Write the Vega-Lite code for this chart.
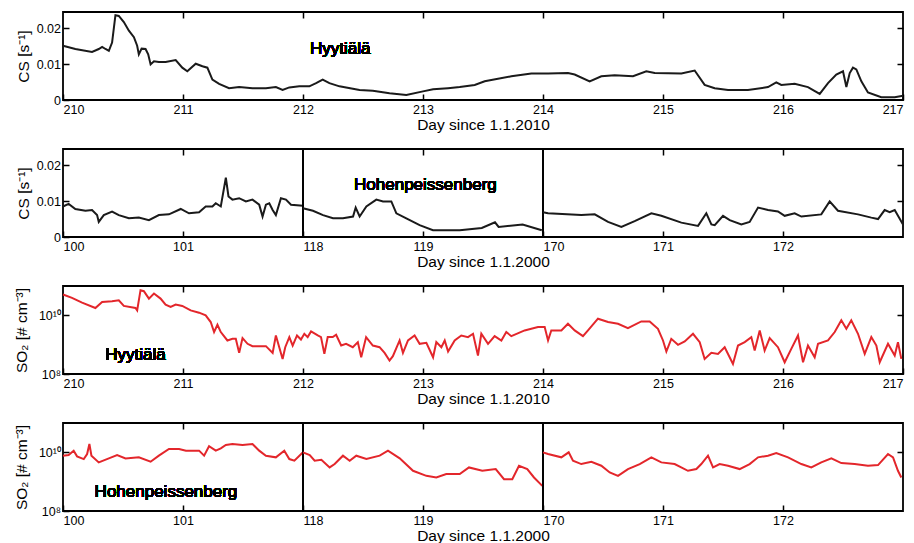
{
  "$schema": "https://vega.github.io/schema/vega-lite/v6.json",
  "background": "white",
  "padding": {"left": 13, "top": 10, "right": 0, "bottom": 0},
  "bounds": "full",
  "spacing": 13,
  "config": {
    "view": {"stroke": "black", "strokeWidth": 1.8},
    "axis": {"tickSize": -6, "tickColor": "black", "tickWidth": 1.5, "domain": false, "grid": false,
      "labelFont": "Liberation Sans", "labelColor": "black", "titleFont": "Liberation Sans",
      "titleFontSize": 15.5, "titleFontWeight": "normal", "titleColor": "black"},
    "axisX": {"labelFontSize": 12.5, "labelPadding": 9.5, "titlePadding": 1.5},
    "axisY": {"labelFontSize": 12.5, "labelPadding": 8.5, "titlePadding": 5},
    "text": {"font": "Liberation Sans", "fontSize": 17, "color": "black", "fontWeight": "normal"}
  },
  "datasets": {
    "cs_hyy": [
      {"day":210.000,"cs":0.0151},{"day":210.103,"cs":0.0142},{"day":210.242,"cs":0.0134},{"day":210.298,"cs":0.0142},{"day":210.326,"cs":0.0148},{"day":210.354,"cs":0.0142},{"day":210.382,"cs":0.0137},{"day":210.409,"cs":0.016},{"day":210.437,"cs":0.0236},{"day":210.465,"cs":0.0234},{"day":210.507,"cs":0.0217},{"day":210.549,"cs":0.0193},{"day":210.591,"cs":0.0175},{"day":210.618,"cs":0.0151},{"day":210.632,"cs":0.0127},{"day":210.655,"cs":0.0143},{"day":210.688,"cs":0.0142},{"day":210.710,"cs":0.0127},{"day":210.730,"cs":0.0099},{"day":210.758,"cs":0.0108},{"day":210.799,"cs":0.0106},{"day":210.855,"cs":0.0106},{"day":210.939,"cs":0.0111},{"day":210.994,"cs":0.009},{"day":211.036,"cs":0.008},{"day":211.106,"cs":0.0101},{"day":211.162,"cs":0.0094},{"day":211.203,"cs":0.009},{"day":211.245,"cs":0.0057},{"day":211.301,"cs":0.0045},{"day":211.384,"cs":0.0033},{"day":211.468,"cs":0.0036},{"day":211.579,"cs":0.0033},{"day":211.691,"cs":0.0033},{"day":211.774,"cs":0.0036},{"day":211.830,"cs":0.0028},{"day":211.886,"cs":0.0035},{"day":211.969,"cs":0.0038},{"day":212.053,"cs":0.0038},{"day":212.109,"cs":0.0047},{"day":212.164,"cs":0.0057},{"day":212.220,"cs":0.0047},{"day":212.304,"cs":0.0038},{"day":212.471,"cs":0.0028},{"day":212.582,"cs":0.0026},{"day":212.721,"cs":0.0019},{"day":212.861,"cs":0.0014},{"day":213.000,"cs":0.0024},{"day":213.084,"cs":0.003},{"day":213.208,"cs":0.0033},{"day":213.306,"cs":0.0036},{"day":213.431,"cs":0.0042},{"day":213.514,"cs":0.0052},{"day":213.736,"cs":0.0066},{"day":213.903,"cs":0.0074},{"day":214.042,"cs":0.0074},{"day":214.208,"cs":0.0075},{"day":214.264,"cs":0.0071},{"day":214.389,"cs":0.0052},{"day":214.486,"cs":0.0066},{"day":214.597,"cs":0.0069},{"day":214.75,"cs":0.0066},{"day":214.861,"cs":0.008},{"day":214.931,"cs":0.0075},{"day":215.153,"cs":0.0074},{"day":215.264,"cs":0.0082},{"day":215.347,"cs":0.0042},{"day":215.431,"cs":0.0033},{"day":215.542,"cs":0.0028},{"day":215.708,"cs":0.0028},{"day":215.875,"cs":0.0036},{"day":215.944,"cs":0.0049},{"day":215.986,"cs":0.0042},{"day":216.097,"cs":0.0045},{"day":216.208,"cs":0.0036},{"day":216.306,"cs":0.0017},{"day":216.375,"cs":0.0047},{"day":216.444,"cs":0.0071},{"day":216.5,"cs":0.008},{"day":216.528,"cs":0.0036},{"day":216.556,"cs":0.0075},{"day":216.583,"cs":0.009},{"day":216.611,"cs":0.0085},{"day":216.653,"cs":0.0052},{"day":216.708,"cs":0.0021},{"day":216.819,"cs":0.0008},{"day":216.931,"cs":0.0008},{"day":217.0,"cs":0.0012}
    ],
    "cs_hoh": [
      {"day":100.000,"cs":0.0085},{"day":100.047,"cs":0.0092},{"day":100.103,"cs":0.0078},{"day":100.187,"cs":0.0073},{"day":100.242,"cs":0.0075},{"day":100.284,"cs":0.0061},{"day":100.298,"cs":0.0042},{"day":100.340,"cs":0.0061},{"day":100.409,"cs":0.0071},{"day":100.465,"cs":0.0061},{"day":100.549,"cs":0.0052},{"day":100.632,"cs":0.0054},{"day":100.716,"cs":0.0047},{"day":100.799,"cs":0.0061},{"day":100.883,"cs":0.0063},{"day":100.981,"cs":0.0078},{"day":101.050,"cs":0.0066},{"day":101.134,"cs":0.0069},{"day":101.189,"cs":0.0085},{"day":101.245,"cs":0.0085},{"day":101.273,"cs":0.0094},{"day":101.315,"cs":0.0085},{"day":101.357,"cs":0.0165},{"day":101.379,"cs":0.0113},{"day":101.412,"cs":0.0104},{"day":101.468,"cs":0.0108},{"day":101.524,"cs":0.0099},{"day":101.579,"cs":0.0104},{"day":101.635,"cs":0.009},{"day":101.663,"cs":0.0057},{"day":101.691,"cs":0.009},{"day":101.719,"cs":0.0094},{"day":101.747,"cs":0.0075},{"day":101.774,"cs":0.0061},{"day":101.816,"cs":0.0108},{"day":101.858,"cs":0.0104},{"day":101.900,"cs":0.009},{"day":102.000,"cs":0.0087},
      {"day":118.000,"cs":0.008},{"day":118.083,"cs":0.0073},{"day":118.167,"cs":0.0061},{"day":118.250,"cs":0.0052},{"day":118.333,"cs":0.0052},{"day":118.417,"cs":0.0057},{"day":118.439,"cs":0.0082},{"day":118.472,"cs":0.0057},{"day":118.528,"cs":0.0085},{"day":118.611,"cs":0.0104},{"day":118.667,"cs":0.0099},{"day":118.736,"cs":0.0099},{"day":118.778,"cs":0.0066},{"day":118.861,"cs":0.0052},{"day":118.972,"cs":0.0033},{"day":119.083,"cs":0.0019},{"day":119.217,"cs":0.0019},{"day":119.306,"cs":0.0019},{"day":119.49,"cs":0.0025},{"day":119.6,"cs":0.0041},{"day":119.63,"cs":0.0028},{"day":119.83,"cs":0.0035},{"day":119.99,"cs":0.0019},
      {"day":170.000,"cs":0.0069},{"day":170.042,"cs":0.0066},{"day":170.319,"cs":0.0061},{"day":170.431,"cs":0.0063},{"day":170.542,"cs":0.0042},{"day":170.653,"cs":0.0028},{"day":170.764,"cs":0.0044},{"day":170.903,"cs":0.0066},{"day":170.986,"cs":0.0059},{"day":171.153,"cs":0.004},{"day":171.292,"cs":0.0031},{"day":171.361,"cs":0.0066},{"day":171.403,"cs":0.0035},{"day":171.431,"cs":0.0033},{"day":171.5,"cs":0.0059},{"day":171.556,"cs":0.0047},{"day":171.653,"cs":0.0035},{"day":171.722,"cs":0.0042},{"day":171.792,"cs":0.0082},{"day":171.875,"cs":0.0075},{"day":171.958,"cs":0.0071},{"day":172.014,"cs":0.0059},{"day":172.097,"cs":0.0066},{"day":172.153,"cs":0.0057},{"day":172.319,"cs":0.0063},{"day":172.389,"cs":0.0099},{"day":172.458,"cs":0.0073},{"day":172.625,"cs":0.0063},{"day":172.736,"cs":0.0054},{"day":172.792,"cs":0.005},{"day":172.847,"cs":0.0075},{"day":172.889,"cs":0.0069},{"day":172.931,"cs":0.0075},{"day":173.0,"cs":0.0035}
    ],
    "so2_hyy": [
      {"day":210.000,"so2":5.12e10},{"day":210.075,"so2":3.93e10},{"day":210.159,"so2":2.72e10},{"day":210.270,"so2":1.78e10},{"day":210.326,"so2":2.86e10},{"day":210.409,"so2":3.02e10},{"day":210.465,"so2":3.27e10},{"day":210.507,"so2":2.09e10},{"day":210.604,"so2":1.78e10},{"day":210.618,"so2":1.48e10},{"day":210.646,"so2":7.19e10},{"day":210.674,"so2":6.65e10},{"day":210.716,"so2":3.72e10},{"day":210.758,"so2":5.53e10},{"day":210.813,"so2":3.72e10},{"day":210.855,"so2":2.32e10},{"day":210.897,"so2":1.93e10},{"day":210.939,"so2":2.32e10},{"day":210.994,"so2":2.09e10},{"day":211.064,"so2":1.48e10},{"day":211.134,"so2":1.23e10},{"day":211.189,"so2":1.0e10},{"day":211.231,"so2":5.9e9},{"day":211.259,"so2":2.69e9},{"day":211.287,"so2":4.79e9},{"day":211.315,"so2":2.69e9},{"day":211.370,"so2":1.39e9},{"day":211.412,"so2":1.58e9},{"day":211.440,"so2":1.58e9},{"day":211.468,"so2":5.25e8},{"day":211.496,"so2":1.67e9},{"day":211.538,"so2":1.07e9},{"day":211.579,"so2":8.9e8},{"day":211.691,"so2":8.9e8},{"day":211.747,"so2":5.25e8},{"day":211.774,"so2":2.06e9},{"day":211.802,"so2":8.2e8},{"day":211.830,"so2":3.27e8},{"day":211.852,"so2":8.2e8},{"day":211.886,"so2":1.81e9},{"day":211.914,"so2":9.35e8},{"day":211.950,"so2":2.06e9},{"day":211.983,"so2":1.5e9},{"day":212.011,"so2":2.35e9},{"day":212.039,"so2":1.81e9},{"day":212.067,"so2":2.82e9},{"day":212.123,"so2":2.06e9},{"day":212.150,"so2":1.81e9},{"day":212.178,"so2":4.85e8},{"day":212.206,"so2":1.81e9},{"day":212.248,"so2":1.81e9},{"day":212.276,"so2":2.17e9},{"day":212.318,"so2":9.35e8},{"day":212.359,"so2":1.07e9},{"day":212.415,"so2":8.2e8},{"day":212.457,"so2":1.22e9},{"day":212.485,"so2":3.72e8},{"day":212.526,"so2":1.81e9},{"day":212.582,"so2":9.35e8},{"day":212.638,"so2":8.2e8},{"day":212.680,"so2":5.25e8},{"day":212.721,"so2":2.86e8},{"day":212.749,"so2":4.04e8},{"day":212.805,"so2":1.39e9},{"day":212.833,"so2":5.25e8},{"day":212.875,"so2":1.39e9},{"day":212.930,"so2":2.06e9},{"day":212.972,"so2":1.07e9},{"day":213.028,"so2":1.16e9},{"day":213.084,"so2":3.72e8},{"day":213.111,"so2":1.22e9},{"day":213.153,"so2":8.2e8},{"day":213.181,"so2":1.39e9},{"day":213.209,"so2":5.83e8},
      {"day":213.264,"so2":1.39e9},{"day":213.319,"so2":2.06e9},{"day":213.375,"so2":1.81e9},{"day":213.417,"so2":2.35e9},{"day":213.458,"so2":4.26e8},{"day":213.486,"so2":2.35e9},{"day":213.542,"so2":1.07e9},{"day":213.597,"so2":1.95e9},{"day":213.653,"so2":1.39e9},{"day":213.694,"so2":2.69e9},{"day":213.736,"so2":1.95e9},{"day":213.847,"so2":3.06e9},{"day":213.958,"so2":3.98e9},{"day":214.014,"so2":3.98e9},{"day":214.042,"so2":1.39e9},{"day":214.069,"so2":3.06e9},{"day":214.153,"so2":3.06e9},{"day":214.208,"so2":5.18e9},{"day":214.264,"so2":3.06e9},{"day":214.333,"so2":1.95e9},{"day":214.375,"so2":3.06e9},{"day":214.458,"so2":7.69e9},{"day":214.542,"so2":5.9e9},{"day":214.625,"so2":5.18e9},{"day":214.708,"so2":3.68e9},{"day":214.819,"so2":6.22e9},{"day":214.889,"so2":6.22e9},{"day":214.958,"so2":3.49e9},{"day":215.0,"so2":1.39e9},{"day":215.028,"so2":5.83e8},{"day":215.069,"so2":1.58e9},{"day":215.125,"so2":9.86e8},{"day":215.181,"so2":1.29e9},{"day":215.25,"so2":2.35e9},{"day":215.306,"so2":1.22e9},{"day":215.347,"so2":3.27e8},{"day":215.403,"so2":5.25e8},{"day":215.458,"so2":4.85e8},{"day":215.514,"so2":8.2e8},{"day":215.583,"so2":2.2e8},{"day":215.625,"so2":9.35e8},{"day":215.681,"so2":1.22e9},{"day":215.736,"so2":1.81e9},{"day":215.764,"so2":6.31e8},{"day":215.806,"so2":3.06e9},{"day":215.847,"so2":6.31e8},{"day":215.889,"so2":1.67e9},{"day":215.958,"so2":8.2e8},{"day":216.014,"so2":2.51e8},{"day":216.069,"so2":7.19e8},{"day":216.125,"so2":2.06e9},{"day":216.167,"so2":2.51e8},{"day":216.208,"so2":9.35e8},{"day":216.264,"so2":3.72e8},{"day":216.292,"so2":1.07e9},{"day":216.375,"so2":1.39e9},{"day":216.431,"so2":2.69e9},{"day":216.486,"so2":6.75e9},{"day":216.528,"so2":3.49e9},{"day":216.569,"so2":6.75e9},{"day":216.625,"so2":2.35e9},{"day":216.681,"so2":4.85e8},{"day":216.736,"so2":1.81e9},{"day":216.778,"so2":9.35e8},{"day":216.806,"so2":2.51e8},{"day":216.875,"so2":1.07e9},{"day":216.931,"so2":4.26e8},{"day":216.958,"so2":1.22e9},{"day":216.986,"so2":3.27e8}
    ],
    "so2_hoh": [
      {"day":100.000,"so2":7.69e9},{"day":100.047,"so2":8.11e9},{"day":100.089,"so2":1.14e10},{"day":100.117,"so2":7.29e9},{"day":100.173,"so2":5.9e9},{"day":100.201,"so2":8.77e9},{"day":100.220,"so2":1.93e10},{"day":100.237,"so2":7.69e9},{"day":100.298,"so2":4.54e9},{"day":100.382,"so2":6.22e9},{"day":100.451,"so2":8.11e9},{"day":100.521,"so2":6.22e9},{"day":100.632,"so2":6.75e9},{"day":100.730,"so2":4.79e9},{"day":100.799,"so2":7.69e9},{"day":100.883,"so2":1.3e10},{"day":100.967,"so2":1.3e10},{"day":101.025,"so2":1.14e10},{"day":101.134,"so2":1.14e10},{"day":101.176,"so2":7.69e9},{"day":101.217,"so2":1.61e10},{"day":101.273,"so2":1.14e10},{"day":101.315,"so2":1.37e10},{"day":101.357,"so2":1.78e10},{"day":101.412,"so2":1.93e10},{"day":101.496,"so2":1.78e10},{"day":101.579,"so2":1.93e10},{"day":101.635,"so2":1.14e10},{"day":101.691,"so2":7.69e9},{"day":101.774,"so2":6.75e9},{"day":101.844,"so2":1.14e10},{"day":101.886,"so2":5.9e9},{"day":101.928,"so2":5.18e9},{"day":102.000,"so2":1.0e10},
      {"day":118.000,"so2":1.0e10},{"day":118.056,"so2":8.11e9},{"day":118.097,"so2":5.18e9},{"day":118.153,"so2":5.61e9},{"day":118.222,"so2":3.06e9},{"day":118.264,"so2":3.98e9},{"day":118.333,"so2":7.69e9},{"day":118.389,"so2":5.18e9},{"day":118.444,"so2":7.69e9},{"day":118.528,"so2":5.9e9},{"day":118.639,"so2":7.69e9},{"day":118.708,"so2":1.14e10},{"day":118.806,"so2":6.22e9},{"day":118.917,"so2":2.35e9},{"day":119.028,"so2":1.58e9},{"day":119.111,"so2":1.39e9},{"day":119.194,"so2":1.81e9},{"day":119.306,"so2":1.81e9},{"day":119.383,"so2":3.06e9},{"day":119.494,"so2":2.35e9},{"day":119.606,"so2":2.69e9},{"day":119.675,"so2":1.22e9},{"day":119.744,"so2":1.22e9},{"day":119.8,"so2":3.49e9},{"day":119.869,"so2":2.69e9},{"day":119.925,"so2":1.39e9},{"day":119.994,"so2":7.19e8},
      {"day":170.000,"so2":1.0e10},{"day":170.042,"so2":8.77e9},{"day":170.153,"so2":6.75e9},{"day":170.214,"so2":1.0e10},{"day":170.25,"so2":5.18e9},{"day":170.319,"so2":3.98e9},{"day":170.403,"so2":4.79e9},{"day":170.486,"so2":3.49e9},{"day":170.556,"so2":2.06e9},{"day":170.625,"so2":1.58e9},{"day":170.708,"so2":2.69e9},{"day":170.806,"so2":3.98e9},{"day":170.903,"so2":6.75e9},{"day":170.986,"so2":4.54e9},{"day":171.097,"so2":3.98e9},{"day":171.208,"so2":2.35e9},{"day":171.278,"so2":2.69e9},{"day":171.319,"so2":3.98e9},{"day":171.375,"so2":7.69e9},{"day":171.417,"so2":3.06e9},{"day":171.472,"so2":3.98e9},{"day":171.542,"so2":3.49e9},{"day":171.639,"so2":2.69e9},{"day":171.722,"so2":3.98e9},{"day":171.792,"so2":6.75e9},{"day":171.875,"so2":7.69e9},{"day":171.944,"so2":9.48e9},{"day":172.042,"so2":6.75e9},{"day":172.153,"so2":3.98e9},{"day":172.236,"so2":3.06e9},{"day":172.319,"so2":4.54e9},{"day":172.403,"so2":6.22e9},{"day":172.486,"so2":4.31e9},{"day":172.597,"so2":3.98e9},{"day":172.708,"so2":3.49e9},{"day":172.792,"so2":3.68e9},{"day":172.875,"so2":8.77e9},{"day":172.917,"so2":6.75e9},{"day":172.958,"so2":2.35e9},{"day":172.986,"so2":1.39e9}
    ]
  },
  "vconcat": [
    {
      "width": 840, "height": 88,
      "data": {"name": "cs_hyy"},
      "layer": [
        {"mark": {"type": "line", "color": "#1a1a1a", "strokeWidth": 2},
         "encoding": {
           "x": {"field": "day", "type": "quantitative", "scale": {"domain": [210, 217], "nice": false, "zero": false}, "axis": {"values": [210,211,212,213,214,215,216,217], "format": "d", "title": "Day since 1.1.2010"}},
           "y": {"field": "cs", "type": "quantitative", "scale": {"domain": [0, 0.0245], "nice": false}, "axis": {"values": [0, 0.01, 0.02], "labelExpr": "datum.value == 0 ? '0' : format(datum.value, '.2f')", "title": "CS [s⁻¹]"}}}},
        {"mark": {"type": "line", "opacity": 0},
         "encoding": {
           "x": {"field": "day", "type": "quantitative", "scale": {"domain": [210, 217], "nice": false, "zero": false}, "axis": {"orient": "top", "values": [211,212,213,214,215,216], "labels": false, "title": null}},
           "y": {"field": "cs", "type": "quantitative", "scale": {"domain": [0, 0.0245], "nice": false}, "axis": {"orient": "right", "values": [0.01, 0.02], "labels": false, "title": null}}}},
        {"mark": {"type": "text"},
         "encoding": {
           "x": {"datum": 212.31, "type": "quantitative", "scale": {"domain": [210, 217], "nice": false, "zero": false}, "axis": null},
           "y": {"datum": 0.0142, "type": "quantitative", "scale": {"domain": [0, 0.0245], "nice": false}, "axis": null},
           "text": {"value": "Hyytiälä"}}}
      ],
      "resolve": {"axis": {"x": "independent", "y": "independent"}}
    },
    {
      "hconcat": [
        {
          "width": 240, "height": 88,
          "data": {"name": "cs_hoh"},
          "transform": [{"filter": "datum.day <= 102.01"}],
          "layer": [
            {"mark": {"type": "line", "color": "#1a1a1a", "strokeWidth": 2},
             "encoding": {
               "x": {"field": "day", "type": "quantitative", "scale": {"domain": [100, 102], "nice": false, "zero": false}, "axis": {"values": [100, 101], "format": "d", "title": null}},
               "y": {"field": "cs", "type": "quantitative", "scale": {"domain": [0, 0.0245], "nice": false}, "axis": {"values": [0, 0.01, 0.02], "labelExpr": "datum.value == 0 ? '0' : format(datum.value, '.2f')", "title": "CS [s⁻¹]"}}}},
            {"mark": {"type": "line", "opacity": 0},
             "encoding": {
               "x": {"field": "day", "type": "quantitative", "scale": {"domain": [100, 102], "nice": false, "zero": false}, "axis": {"orient": "top", "values": [101], "labels": false, "title": null}},
               "y": {"field": "cs", "type": "quantitative", "scale": {"domain": [0, 0.0245], "nice": false}, "axis": null}}}
          ],
          "resolve": {"axis": {"x": "independent", "y": "independent"}}
        },
        {
          "width": 240, "height": 88,
          "data": {"name": "cs_hoh"},
          "transform": [{"filter": "datum.day >= 118 && datum.day <= 120"}],
          "layer": [
            {"mark": {"type": "line", "color": "#1a1a1a", "strokeWidth": 2},
             "encoding": {
               "x": {"field": "day", "type": "quantitative", "scale": {"domain": [118, 120], "nice": false, "zero": false}, "axis": {"values": [118, 119], "format": "d", "title": "Day since 1.1.2000", "titleX": 180}},
               "y": {"field": "cs", "type": "quantitative", "scale": {"domain": [0, 0.0245], "nice": false}, "axis": null}}},
            {"mark": {"type": "line", "opacity": 0},
             "encoding": {
               "x": {"field": "day", "type": "quantitative", "scale": {"domain": [118, 120], "nice": false, "zero": false}, "axis": {"orient": "top", "values": [119], "labels": false, "title": null}},
               "y": {"field": "cs", "type": "quantitative", "scale": {"domain": [0, 0.0245], "nice": false}, "axis": null}}},
            {"mark": {"type": "text"},
             "encoding": {
               "x": {"datum": 119.02, "type": "quantitative", "scale": {"domain": [118, 120], "nice": false, "zero": false}, "axis": null},
               "y": {"datum": 0.0146, "type": "quantitative", "scale": {"domain": [0, 0.0245], "nice": false}, "axis": null},
               "text": {"value": "Hohenpeissenberg"}}}
          ],
          "resolve": {"axis": {"x": "independent", "y": "independent"}}
        },
        {
          "width": 360, "height": 88,
          "data": {"name": "cs_hoh"},
          "transform": [{"filter": "datum.day >= 170"}],
          "layer": [
            {"mark": {"type": "line", "color": "#1a1a1a", "strokeWidth": 2},
             "encoding": {
               "x": {"field": "day", "type": "quantitative", "scale": {"domain": [170, 173], "nice": false, "zero": false}, "axis": {"values": [170, 171, 172], "format": "d", "title": null}},
               "y": {"field": "cs", "type": "quantitative", "scale": {"domain": [0, 0.0245], "nice": false}, "axis": null}}},
            {"mark": {"type": "line", "opacity": 0},
             "encoding": {
               "x": {"field": "day", "type": "quantitative", "scale": {"domain": [170, 173], "nice": false, "zero": false}, "axis": {"orient": "top", "values": [171, 172], "labels": false, "title": null}},
               "y": {"field": "cs", "type": "quantitative", "scale": {"domain": [0, 0.0245], "nice": false}, "axis": {"orient": "right", "values": [0.01, 0.02], "labels": false, "title": null}}}}
          ],
          "resolve": {"axis": {"x": "independent", "y": "independent"}}
        }
      ],
      "spacing": 0,
      "bounds": "flush"
    },
    {
      "width": 840, "height": 88,
      "data": {"name": "so2_hyy"},
      "layer": [
        {"mark": {"type": "line", "color": "#e3262b", "strokeWidth": 2},
         "encoding": {
           "x": {"field": "day", "type": "quantitative", "scale": {"domain": [210, 217], "nice": false, "zero": false}, "axis": {"values": [210,211,212,213,214,215,216,217], "format": "d", "title": "Day since 1.1.2010"}},
           "y": {"field": "so2", "type": "quantitative", "scale": {"type": "log", "domain": [1e8, 1e11], "nice": false}, "axis": {"values": [1e8, 1e10], "labelExpr": "datum.value >= 1e10 ? '10¹⁰' : '10⁸'", "title": "SO₂ [# cm⁻³]", "titlePadding": 9}}}},
        {"mark": {"type": "line", "opacity": 0},
         "encoding": {
           "x": {"field": "day", "type": "quantitative", "scale": {"domain": [210, 217], "nice": false, "zero": false}, "axis": {"orient": "top", "values": [211,212,213,214,215,216], "labels": false, "title": null}},
           "y": {"field": "so2", "type": "quantitative", "scale": {"type": "log", "domain": [1e8, 1e11], "nice": false}, "axis": {"orient": "right", "values": [1e10], "labels": false, "title": null}}}},
        {"mark": {"type": "text"},
         "encoding": {
           "x": {"datum": 210.604, "type": "quantitative", "scale": {"domain": [210, 217], "nice": false, "zero": false}, "axis": null},
           "y": {"datum": 4.48e8, "type": "quantitative", "scale": {"type": "log", "domain": [1e8, 1e11], "nice": false}, "axis": null},
           "text": {"value": "Hyytiälä"}}}
      ],
      "resolve": {"axis": {"x": "independent", "y": "independent"}}
    },
    {
      "hconcat": [
        {
          "width": 240, "height": 88,
          "data": {"name": "so2_hoh"},
          "transform": [{"filter": "datum.day <= 102.01"}],
          "layer": [
            {"mark": {"type": "line", "color": "#e3262b", "strokeWidth": 2},
             "encoding": {
               "x": {"field": "day", "type": "quantitative", "scale": {"domain": [100, 102], "nice": false, "zero": false}, "axis": {"values": [100, 101], "format": "d", "title": null}},
               "y": {"field": "so2", "type": "quantitative", "scale": {"type": "log", "domain": [1e8, 1e11], "nice": false}, "axis": {"values": [1e8, 1e10], "labelExpr": "datum.value >= 1e10 ? '10¹⁰' : '10⁸'", "title": "SO₂ [# cm⁻³]", "titlePadding": 9}}}},
            {"mark": {"type": "line", "opacity": 0},
             "encoding": {
               "x": {"field": "day", "type": "quantitative", "scale": {"domain": [100, 102], "nice": false, "zero": false}, "axis": {"orient": "top", "values": [101], "labels": false, "title": null}},
               "y": {"field": "so2", "type": "quantitative", "scale": {"type": "log", "domain": [1e8, 1e11], "nice": false}, "axis": null}}},
            {"mark": {"type": "text"},
             "encoding": {
               "x": {"datum": 100.858, "type": "quantitative", "scale": {"domain": [100, 102], "nice": false, "zero": false}, "axis": null},
               "y": {"datum": 4.48e8, "type": "quantitative", "scale": {"type": "log", "domain": [1e8, 1e11], "nice": false}, "axis": null},
               "text": {"value": "Hohenpeissenberg"}}}
          ],
          "resolve": {"axis": {"x": "independent", "y": "independent"}}
        },
        {
          "width": 240, "height": 88,
          "data": {"name": "so2_hoh"},
          "transform": [{"filter": "datum.day >= 118 && datum.day <= 120"}],
          "layer": [
            {"mark": {"type": "line", "color": "#e3262b", "strokeWidth": 2},
             "encoding": {
               "x": {"field": "day", "type": "quantitative", "scale": {"domain": [118, 120], "nice": false, "zero": false}, "axis": {"values": [118, 119], "format": "d", "title": "Day since 1.1.2000", "titleX": 180}},
               "y": {"field": "so2", "type": "quantitative", "scale": {"type": "log", "domain": [1e8, 1e11], "nice": false}, "axis": null}}},
            {"mark": {"type": "line", "opacity": 0},
             "encoding": {
               "x": {"field": "day", "type": "quantitative", "scale": {"domain": [118, 120], "nice": false, "zero": false}, "axis": {"orient": "top", "values": [119], "labels": false, "title": null}},
               "y": {"field": "so2", "type": "quantitative", "scale": {"type": "log", "domain": [1e8, 1e11], "nice": false}, "axis": null}}}
          ],
          "resolve": {"axis": {"x": "independent", "y": "independent"}}
        },
        {
          "width": 360, "height": 88,
          "data": {"name": "so2_hoh"},
          "transform": [{"filter": "datum.day >= 170"}],
          "layer": [
            {"mark": {"type": "line", "color": "#e3262b", "strokeWidth": 2},
             "encoding": {
               "x": {"field": "day", "type": "quantitative", "scale": {"domain": [170, 173], "nice": false, "zero": false}, "axis": {"values": [170, 171, 172], "format": "d", "title": null}},
               "y": {"field": "so2", "type": "quantitative", "scale": {"type": "log", "domain": [1e8, 1e11], "nice": false}, "axis": null}}},
            {"mark": {"type": "line", "opacity": 0},
             "encoding": {
               "x": {"field": "day", "type": "quantitative", "scale": {"domain": [170, 173], "nice": false, "zero": false}, "axis": {"orient": "top", "values": [171, 172], "labels": false, "title": null}},
               "y": {"field": "so2", "type": "quantitative", "scale": {"type": "log", "domain": [1e8, 1e11], "nice": false}, "axis": {"orient": "right", "values": [1e10], "labels": false, "title": null}}}}
          ],
          "resolve": {"axis": {"x": "independent", "y": "independent"}}
        }
      ],
      "spacing": 0,
      "bounds": "flush"
    }
  ]
}
